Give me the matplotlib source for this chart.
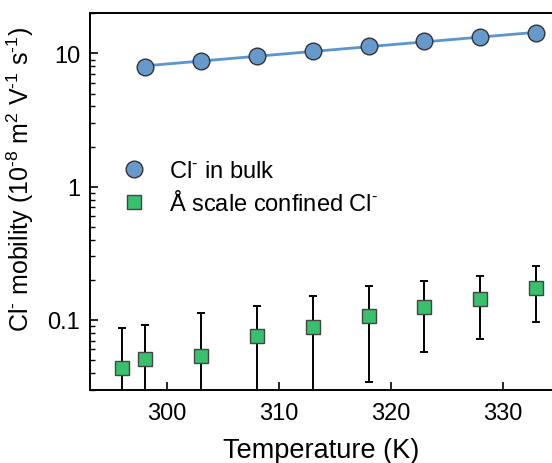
import numpy as np
import matplotlib.pyplot as plt

plt.rcParams['font.family'] = ['Liberation Sans', 'DejaVu Sans']
plt.rcParams['mathtext.fontset'] = 'custom'
plt.rcParams['mathtext.rm'] = 'Liberation Sans'
plt.rcParams['mathtext.it'] = 'Liberation Sans:italic'

# Cl- in bulk
temp_bulk = [298, 303, 308, 313, 318, 323, 328, 333]
mob_bulk = [7.96, 8.74, 9.53, 10.5, 11.3, 12.35, 13.2, 14.2]

# Angstrom scale confined Cl-
temp_conf = [296, 298, 303, 308, 313, 318, 323, 328, 333]
mob_conf = [0.0435, 0.0513, 0.0534, 0.0759, 0.0881, 0.107, 0.126, 0.143, 0.175]
err_conf = [0.043, 0.040, 0.060, 0.052, 0.063, 0.073, 0.069, 0.071, 0.078]

xticks = [300, 310, 320, 330]


def sup(s):
    return r'$^{\mathregular{\text{' + s + '}}}$'


fig = plt.figure(figsize=(5.52, 4.64), dpi=100)
ax = fig.add_axes([90/552, 73/464, 1 - 90/552, 377/464])

# exponential fit of the bulk data (straight on log axis)
p = np.polyfit(temp_bulk, np.log(mob_bulk), 1)
tf = np.array([temp_bulk[0], temp_bulk[-1]])
ax.plot(tf, np.exp(np.polyval(p, tf)), color='#5b95d0', lw=2, zorder=2)

ax.plot(temp_bulk, mob_bulk, 'o', ms=12, mfc='#6699cc', mec='#333333', mew=1,
        zorder=3, label='Cl' + sup('-') + ' in bulk')

ax.errorbar(temp_conf, mob_conf, yerr=err_conf, fmt='none', ecolor='black',
            elinewidth=1.4, capsize=3, capthick=1.4, zorder=2)
ax.plot(temp_conf, mob_conf, 's', ms=10.5, mfc='#38c06c', mec='#444444',
        mew=1, zorder=3, label='Å scale confined Cl' + sup('-'))

ax.set_yscale('log')
ax.set_xlim(293.1, 334.4)
ax.set_ylim(0.0298, 20.1)
ax.set_xticks(xticks)
ax.set_yticks([0.1, 1, 10])
ax.set_yticklabels(['0.1', '1', '10'])

ax.tick_params(direction='in', labelsize=17, width=1.2, length=6, pad=7)
ax.tick_params(axis='x', pad=9)
ax.tick_params(axis='y', which='minor', direction='in', width=1, length=3.5)
ax.tick_params(axis='x', which='minor', bottom=False)
for s in ['left', 'bottom', 'top']:
    ax.spines[s].set_linewidth(1.4)
ax.spines['right'].set_visible(False)

ax.set_xlabel('Temperature (K)', fontsize=19.5, labelpad=9)
ax.set_ylabel('Cl' + sup('-') + ' mobility (10' + sup('-8') + ' m' + sup('2')
              + ' V' + sup('-1') + ' s' + sup('-1') + ')', fontsize=18)
ax.yaxis.set_label_coords(-0.117, 0.562)

ax.legend(loc='upper left', bbox_to_anchor=(0.05, 0.635), frameon=False,
          fontsize=17, handlelength=1, handletextpad=0.95, labelspacing=0.35,
          borderaxespad=0)

fig.savefig('out.png', dpi=100)
